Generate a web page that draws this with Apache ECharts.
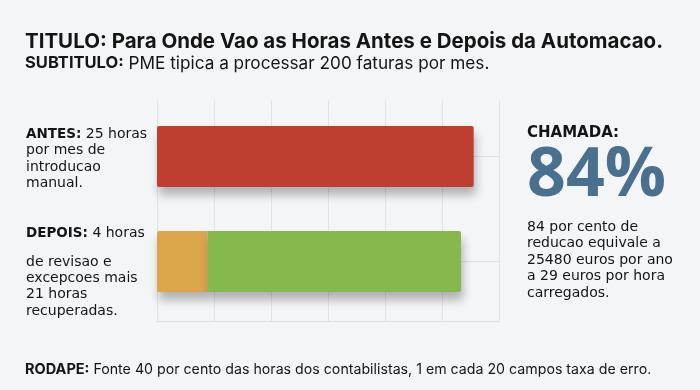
<!DOCTYPE html>
<html><head><meta charset="utf-8">
<script src="https://cdn.jsdelivr.net/npm/echarts@6/dist/echarts.min.js"></script>
<style>html,body{margin:0;padding:0;background:#f4f5f7;}#c{width:700px;height:390px;}</style>
</head><body><div id="c"></div>
<script>
const categories = ['ANTES', 'DEPOIS'];
const antesHours = [25, '-'];
const revisaoHours = ['-', 4];
const recuperadasHours = ['-', 20];
const xTicks = [0, 4.5, 9, 13.5, 18, 22.5, 27];

const titleBold = 'TITULO: Para Onde Vao as Horas Antes e Depois da Automacao.';
const subBold = 'SUBTITULO:';
const subText = ' PME tipica a processar 200 faturas por mes.';
const antesLines = [['ANTES:', ' 25 horas'], ['', 'por mes de'], ['', 'introducao'], ['', 'manual.']];
const depoisFirst = ['DEPOIS:', ' 4 horas'];
const depoisLines = ['de revisao e', 'excepcoes mais', '21 horas', 'recuperadas.'];
const calloutLabel = 'CHAMADA:';
const calloutValue = '84%';
const calloutLines = ['84 por cento de', 'reducao equivale a', '25480 euros por ano', 'a 29 euros por hora', 'carregados.'];
const footBold = 'RODAPE:';
const footText = ' Fonte 40 por cento das horas dos contabilistas, 1 em cada 20 campos taxa de erro.';

const BODY = '"DejaVu Sans", sans-serif';
const BIG = '"Open Sans", sans-serif';
const TFONT = 'Inter, sans-serif';
const INK = '#151515';
const chart = echarts.init(document.getElementById('c'));

function richLine(b, t, x, y, sizeB, sizeT, fontB, fontT) {
  return {
    type: 'text', left: x, top: y,
    style: {
      text: (b ? '{b|' + b + '}' : '') + '{t|' + t + '}',
      rich: {
        b: {fontFamily: fontB, fontWeight: 'bold', fontSize: sizeB, fill: INK},
        t: {fontFamily: fontT, fontWeight: 'normal', fontSize: sizeT, fill: INK}
      }
    }
  };
}

const graphics = [];
graphics.push({type: 'text', left: 25, top: 31, style: {text: titleBold, fontFamily: TFONT, fontWeight: 'bold', fontSize: 20.5, fill: INK}});
graphics.push(richLine(subBold, subText, 25, 55, 16.5, 17.2, TFONT, TFONT));
antesLines.forEach((l, i) => graphics.push(richLine(l[0], l[1], 26, 127 + i * 16.5, 13.5, 14, BODY, BODY)));
graphics.push(richLine(depoisFirst[0], depoisFirst[1], 26, 226, 13.5, 14, BODY, BODY));
depoisLines.forEach((l, i) => graphics.push(richLine('', l, 26, 255 + i * 16.3, 14, 14, BODY, BODY)));
graphics.push({type: 'text', left: 527, top: 126, style: {text: calloutLabel, fontFamily: BODY, fontWeight: 'bold', fontSize: 15, fill: INK}});
graphics.push({type: 'text', left: 527, top: 143, style: {text: calloutValue, fontFamily: BIG, fontWeight: 'bold', fontSize: 68, fill: '#4a7090'}});
calloutLines.forEach((l, i) => graphics.push(richLine('', l, 527, 220 + i * 16.5, 14, 14, BODY, BODY)));
graphics.push(richLine(footBold, footText, 25, 362, 14.5, 14.2, TFONT, TFONT));

const barShadow = {shadowBlur: 10, shadowOffsetY: 8, shadowOffsetX: 2, shadowColor: 'rgba(0,0,0,0.28)'};

chart.setOption({
  backgroundColor: '#f4f5f7',
  animation: false,
  grid: [
    {left: 157, right: 201, top: 100, height: 221},
    {left: 157, right: 201, top: 104, height: 210}
  ],
  xAxis: [
    {gridIndex: 0, type: 'value', min: xTicks[0], max: xTicks[xTicks.length - 1], interval: xTicks[1] - xTicks[0],
     axisLabel: {show: false}, axisTick: {show: false},
     axisLine: {show: true, lineStyle: {color: '#dcdfe3'}},
     splitLine: {show: true, lineStyle: {color: '#dfe2e6', width: 1}}},
    {gridIndex: 1, type: 'value', min: xTicks[0], max: xTicks[xTicks.length - 1], show: false}
  ],
  yAxis: [
    {gridIndex: 0, type: 'value', min: 0, max: 1, show: false, splitLine: {show: false}},
    {gridIndex: 1, type: 'category', data: categories, inverse: true, show: false}
  ],
  series: [
    {type: 'line', xAxisIndex: 1, yAxisIndex: 1, data: [], z: 1, silent: true,
     markLine: {silent: true, symbol: 'none', label: {show: false}, z: 1,
       lineStyle: {color: '#dfe2e6', type: 'solid', width: 1},
       data: categories.map(c => ({yAxis: c}))}},
    {name: 'Antes', type: 'bar', xAxisIndex: 1, yAxisIndex: 1, stack: 'a', barWidth: 61, barGap: '-100%', z: 3,
     data: antesHours, itemStyle: Object.assign({color: '#be3f2f', borderRadius: 2}, barShadow)},
    {name: 'Revisao', type: 'bar', xAxisIndex: 1, yAxisIndex: 1, stack: 'd', barWidth: 61, barGap: '-100%', z: 3,
     data: revisaoHours, itemStyle: Object.assign({color: '#dea64b', borderRadius: [2, 0, 0, 2]}, barShadow)},
    {name: 'Recuperadas', type: 'bar', xAxisIndex: 1, yAxisIndex: 1, stack: 'd', barWidth: 61, barGap: '-100%', z: 3,
     data: recuperadasHours, itemStyle: Object.assign({color: '#85b84d', borderRadius: [0, 2, 2, 0]}, barShadow)}
  ],
  graphic: graphics
});
</script></body></html>
